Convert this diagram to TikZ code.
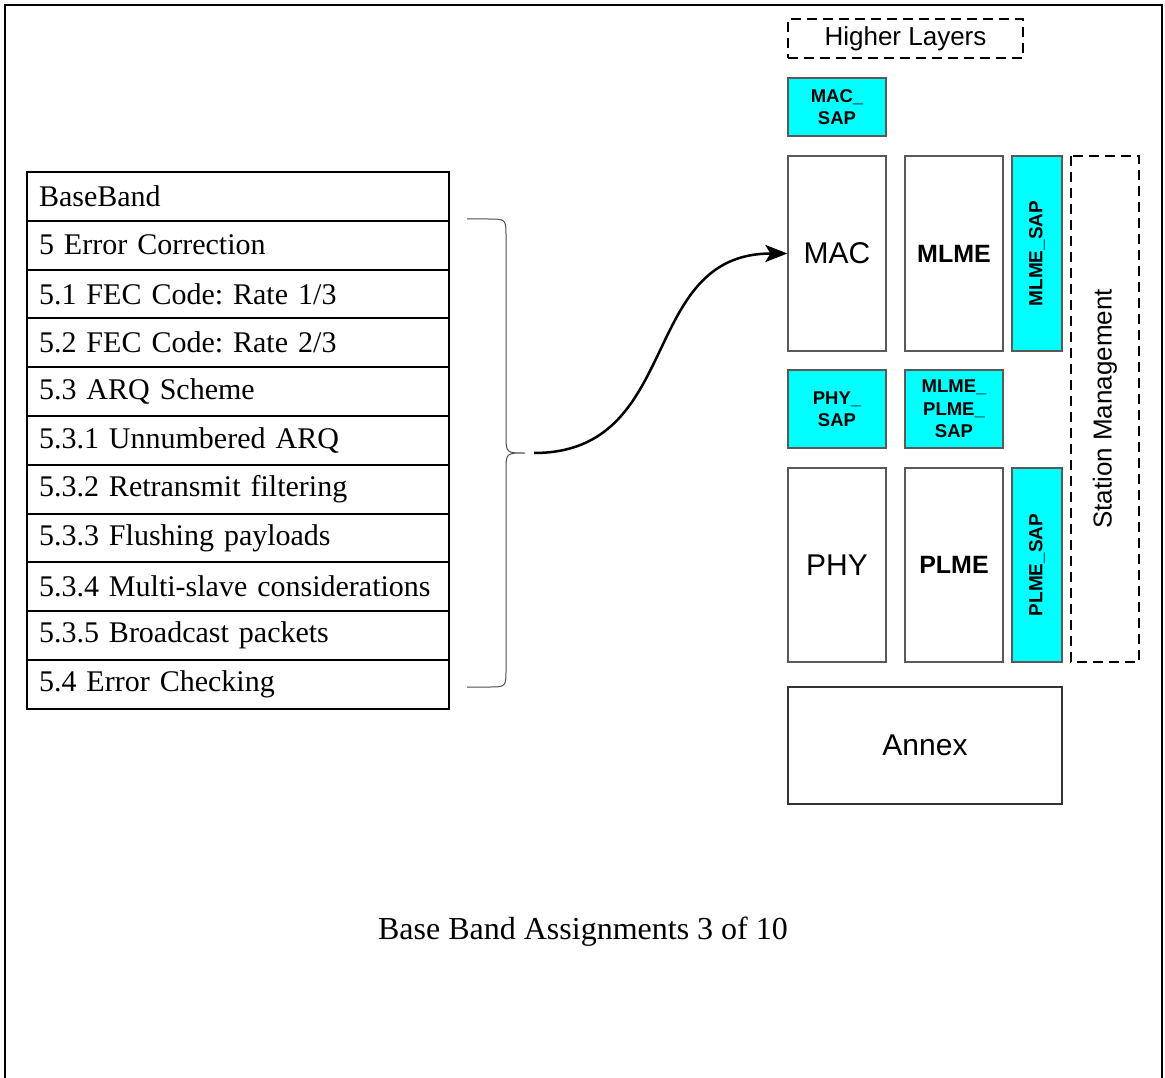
\documentclass[tikz,border=0pt]{standalone}
\usepackage{fontspec}
\setmainfont{Liberation Serif}
\newfontfamily\arialfont{Liberation Sans}
\usetikzlibrary{arrows.meta}
\definecolor{sapcyan}{RGB}{0,255,255}
\frenchspacing

\begin{document}
\begin{tikzpicture}[x=1pt,y=-1pt,
    row/.style={draw, line width=2pt, anchor=west, minimum height=48.8pt,
        text width=398pt, inner xsep=12pt, inner ysep=0pt, align=left, font=\fontsize{30}{34}\selectfont},
    block/.style={draw=black!65, line width=1.2pt, fill=white, inner sep=0pt,
        font=\arialfont\fontsize{30}{36}\selectfont},
    sap/.style={draw=black!65, line width=1.2pt, fill=sapcyan, inner sep=0pt, align=center,
        font=\arialfont\bfseries\fontsize{18.5}{22.5}\selectfont},
    dashbox/.style={draw, line width=1.4pt, dash pattern=on 10pt off 6pt, inner sep=0pt,
        font=\arialfont\fontsize{26}{30}\selectfont}]
                        \useasboundingbox (0,0) rectangle (1165,1078);
                        % Frame
                        \draw[line width=2.2pt] (5,1090) -- (5,5) -- (1162,5) -- (1162,1090);

                        % Nodes
                        \node[row] (bb) at (26,196.4) {BaseBand};
                        \node[row] (ec) at (26,245.2) {5 Error Correction};
                        \node[row] (fec1) at (26,294.0) {5.1 FEC Code: Rate 1/3};
                        \node[row] (fec2) at (26,342.8) {5.2 FEC Code: Rate 2/3};
                        \node[row] (arq) at (26,391.6) {5.3 ARQ Scheme};
                        \node[row] (unarq) at (26,440.4) {5.3.1 Unnumbered ARQ};
                        \node[row] (retx) at (26,489.2) {5.3.2 Retransmit filtering};
                        \node[row] (flush) at (26,538.0) {5.3.3 Flushing payloads};
                        \node[row] (multi) at (26,586.8) {5.3.4 Multi-slave considerations};
                        \node[row] (bcast) at (26,635.6) {5.3.5 Broadcast packets};
                        \node[row] (errchk) at (26,684.4) {5.4 Error Checking};

                        \node[dashbox, minimum width=235pt, minimum height=39pt] (higher) at (905.5,38.5) {Higher Layers};
                        \node[sap, minimum width=98pt, minimum height=58pt] (macsap) at (837,107) {MAC\_\\SAP};
                        \node[block, minimum width=98pt, minimum height=195pt] (mac) at (837,253.5) {MAC};
                        \node[block, minimum width=98pt, minimum height=195pt, font=\arialfont\bfseries\fontsize{25}{30}\selectfont] (mlme) at (954,253.5) {MLME};
                        \node[sap, rotate=90, minimum width=195pt, minimum height=50pt, font=\arialfont\bfseries\fontsize{19}{23}\selectfont] (mlmesap) at (1037,253.5) {MLME\_SAP};
                        \node[dashbox, rotate=90, minimum width=506pt, minimum height=68pt] (station) at (1105,409) {Station Management};
                        \node[sap, minimum width=98pt, minimum height=78pt] (physap) at (837,409) {PHY\_\\SAP};
                        \node[sap, minimum width=98pt, minimum height=78pt] (mlmeplmesap) at (954,409) {MLME\_\\PLME\_\\SAP};
                        \node[block, minimum width=98pt, minimum height=194pt] (phy) at (837,565) {PHY};
                        \node[block, minimum width=98pt, minimum height=194pt, font=\arialfont\bfseries\fontsize{25}{30}\selectfont] (plme) at (954,565) {PLME};
                        \node[sap, rotate=90, minimum width=194pt, minimum height=50pt, font=\arialfont\bfseries\fontsize{19}{23}\selectfont] (plmesap) at (1037,565) {PLME\_SAP};
                        \node[block, draw=black!80, minimum width=274pt, minimum height=117pt] (annex) at (925,745.5) {Annex};

                        \node[font=\fontsize{32}{38}\selectfont] (caption) at (583,932) {Base Band Assignments 3 of 10};

                        % Brace
                        \coordinate (bracetip) at (525,453);
                        \draw[black!70, line width=1pt] (467,219) -- (488,219) .. controls (506,219) .. (506,237)
                            -- (506,435) .. controls (506,453) .. (bracetip)
                            .. controls (506,453) .. (506,471) -- (506,669)
                            .. controls (506,687) .. (488,687) -- (467,687);

                        % Edges
                        \coordinate (start) at (534,453);
                        \draw[line width=2.5pt, -{Stealth[length=22pt, width=17pt, inset=5pt]}]
                            (start) .. controls +(150,0) and +(-150,0) .. (mac.west);
                    \end{tikzpicture}
\end{document}
